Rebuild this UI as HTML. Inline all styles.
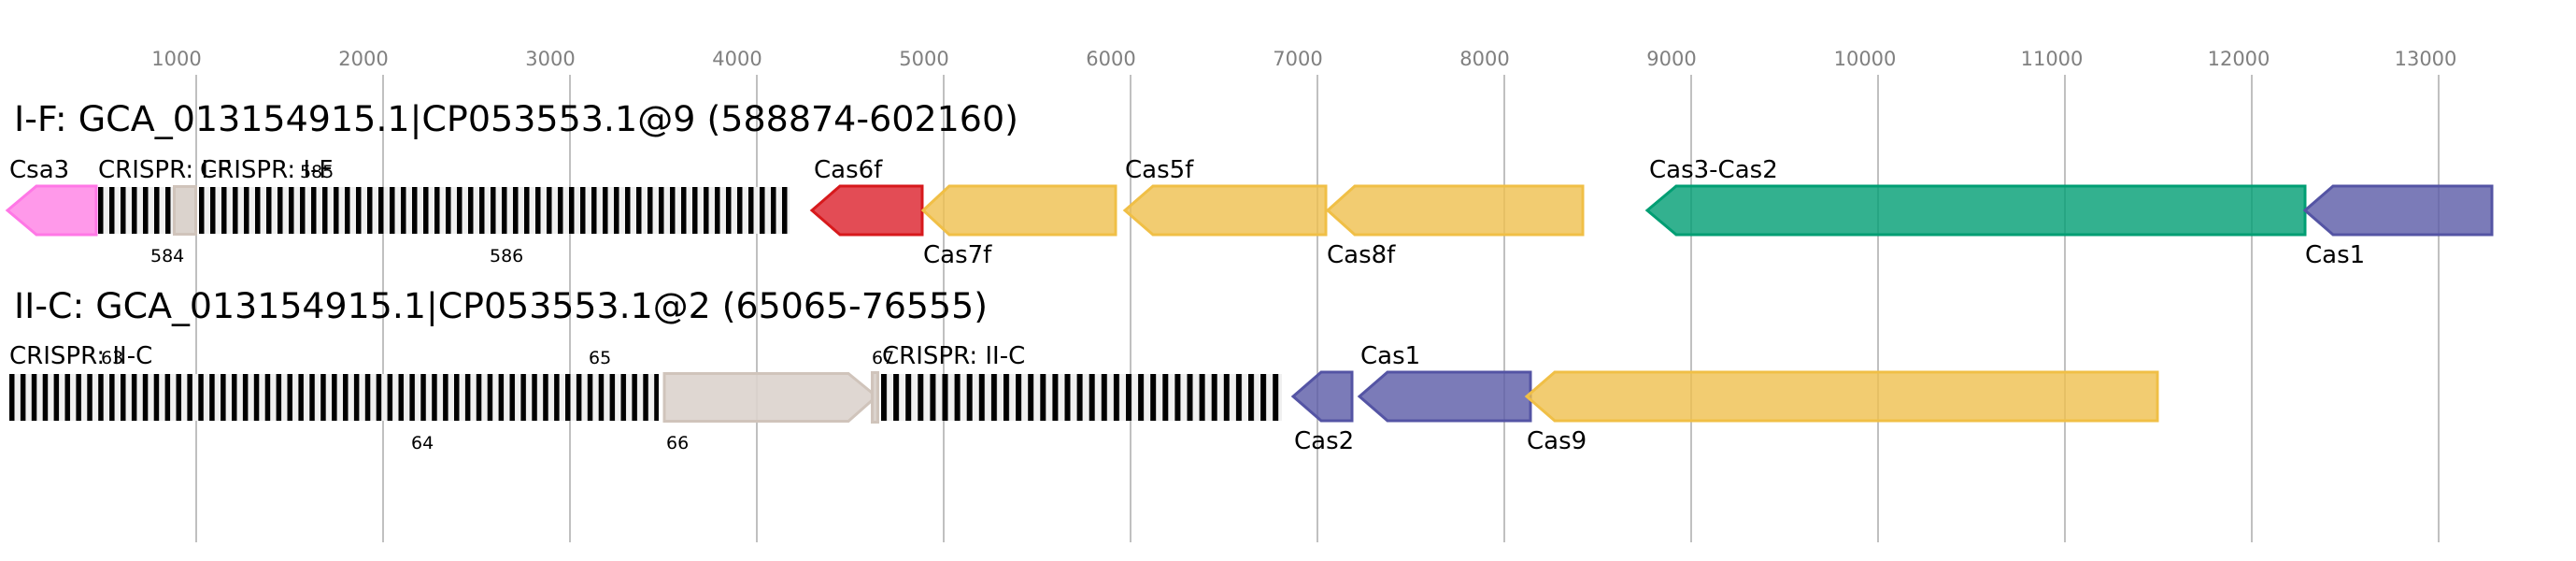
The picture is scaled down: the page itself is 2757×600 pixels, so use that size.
<!DOCTYPE html>
<html><head><meta charset="utf-8"><style>
html,body{margin:0;padding:0;background:#fff;}
svg{display:block;font-family:"DejaVu Sans","Liberation Sans",sans-serif;}
</style></head><body>
<svg width="2757" height="600" viewBox="0 0 2757 600" xmlns="http://www.w3.org/2000/svg">
<defs>
<pattern id="b12" x="105" y="0" width="12" height="10" patternUnits="userSpaceOnUse"><rect width="12" height="10" fill="#f0f0f0"/><rect width="5.5" height="10" fill="#000"/></pattern>
<pattern id="b12b" x="213" y="0" width="12" height="10" patternUnits="userSpaceOnUse"><rect width="12" height="10" fill="#f0f0f0"/><rect width="5.5" height="10" fill="#000"/></pattern>
<pattern id="b12c" x="10" y="0" width="11.9" height="10" patternUnits="userSpaceOnUse"><rect width="12" height="10" fill="#f0f0f0"/><rect width="5.5" height="10" fill="#000"/></pattern>
<pattern id="b13" x="943" y="0" width="13.1" height="10" patternUnits="userSpaceOnUse"><rect width="14" height="10" fill="#f0f0f0"/><rect width="6" height="10" fill="#000"/></pattern>
</defs>
<g stroke="#c0c0c0" stroke-width="2">
<line x1="210" y1="80" x2="210" y2="580"/><line x1="410" y1="80" x2="410" y2="580"/><line x1="610" y1="80" x2="610" y2="580"/><line x1="810" y1="80" x2="810" y2="580"/><line x1="1010" y1="80" x2="1010" y2="580"/><line x1="1210" y1="80" x2="1210" y2="580"/><line x1="1410" y1="80" x2="1410" y2="580"/><line x1="1610" y1="80" x2="1610" y2="580"/><line x1="1810" y1="80" x2="1810" y2="580"/><line x1="2010" y1="80" x2="2010" y2="580"/><line x1="2210" y1="80" x2="2210" y2="580"/><line x1="2410" y1="80" x2="2410" y2="580"/><line x1="2610" y1="80" x2="2610" y2="580"/>
</g>
<g fill="#808080" font-size="21" text-anchor="middle">
<text x="189" y="70">1000</text><text x="389" y="70">2000</text><text x="589" y="70">3000</text><text x="789" y="70">4000</text><text x="989" y="70">5000</text><text x="1189" y="70">6000</text><text x="1389" y="70">7000</text><text x="1589" y="70">8000</text><text x="1789" y="70">9000</text><text x="1996" y="70">10000</text><text x="2196" y="70">11000</text><text x="2396" y="70">12000</text><text x="2596" y="70">13000</text>
</g>
<g font-size="37" fill="#000">
<text x="15" y="140" textLength="1075" lengthAdjust="spacingAndGlyphs">I-F: GCA_013154915.1|CP053553.1@9 (588874-602160)</text>
<text x="15" y="340" textLength="1042" lengthAdjust="spacingAndGlyphs">II-C: GCA_013154915.1|CP053553.1@2 (65065-76555)</text>
</g>
<rect x="105" y="200" width="80" height="50" fill="url(#b12)"/>
<rect x="186.5" y="199.5" width="23" height="51" fill="#dbd3cd" stroke="#d0c4bb" stroke-width="3"/>
<rect x="213" y="200" width="632" height="50" fill="url(#b12b)"/>
<g stroke-width="3" fill-opacity="0.8">
<path d="M8,225 L39,199 L103,199 L103,251 L39,251 Z" fill="#ff7fe5" stroke="#ff77e6"/>
<path d="M869,225 L899,199 L987,199 L987,251 L899,251 Z" fill="#dc1f2b" stroke="#d7191c"/>
<path d="M988,225 L1016,199 L1194,199 L1194,251 L1016,251 Z" fill="#efbf4e" stroke="#f0bf46"/>
<path d="M1204,225 L1234,199 L1419,199 L1419,251 L1234,251 Z" fill="#efbf4e" stroke="#f0bf46"/>
<path d="M1421,225 L1450,199 L1694,199 L1694,251 L1450,251 Z" fill="#efbf4e" stroke="#f0bf46"/>
<path d="M1763,225 L1794,199 L2467,199 L2467,251 L1794,251 Z" fill="#009e73" stroke="#009e73"/>
<path d="M2467,225 L2497,199 L2667,199 L2667,251 L2497,251 Z" fill="#5a5aa6" stroke="#5454a4"/>
</g>
<g font-size="26" fill="#000">
<text x="10" y="190">Csa3</text>
<text x="105" y="190">CRISPR: I-F</text>
<text x="214" y="190">CRISPR: I-F</text>
<text x="871" y="190">Cas6f</text>
<text x="988" y="281">Cas7f</text>
<text x="1204" y="190">Cas5f</text>
<text x="1420" y="281">Cas8f</text>
<text x="1765" y="190">Cas3-Cas2</text>
<text x="2467" y="281">Cas1</text>
</g>
<g font-size="19" fill="#000">
<text x="321" y="190">585</text>
<text x="161" y="280">584</text>
<text x="524" y="280">586</text>
</g>
<rect x="10" y="400" width="695" height="50" fill="url(#b12c)"/>
<path d="M711,399.5 L908,399.5 L938,424 L908,450.5 L711,450.5 Z" fill="#dbd3cd" fill-opacity="0.9" stroke="#d0c4bb" stroke-width="3"/>
<rect x="933.5" y="398.5" width="6" height="53" fill="#dbd3cd" stroke="#d0c4bb" stroke-width="3"/>
<rect x="943" y="400" width="429" height="50" fill="url(#b13)"/>
<g stroke-width="3" fill-opacity="0.8">
<path d="M1384,424 L1414,398 L1447,398 L1447,450 L1414,450 Z" fill="#5a5aa6" stroke="#5454a4"/>
<path d="M1455,424 L1485,398 L1638,398 L1638,450 L1485,450 Z" fill="#5a5aa6" stroke="#5454a4"/>
<path d="M1634,424 L1664,398 L2309,398 L2309,450 L1664,450 Z" fill="#efbf4e" stroke="#f0bf46"/>
</g>
<g font-size="26" fill="#000">
<text x="10" y="389">CRISPR: II-C</text>
<text x="944" y="389">CRISPR: II-C</text>
<text x="1385" y="480">Cas2</text>
<text x="1456" y="389">Cas1</text>
<text x="1634" y="480">Cas9</text>
</g>
<g font-size="19" fill="#000">
<text x="108" y="389">63</text>
<text x="630" y="389">65</text>
<text x="933" y="389">67</text>
<text x="440" y="480">64</text>
<text x="713" y="480">66</text>
</g>
</svg>
</body></html>
